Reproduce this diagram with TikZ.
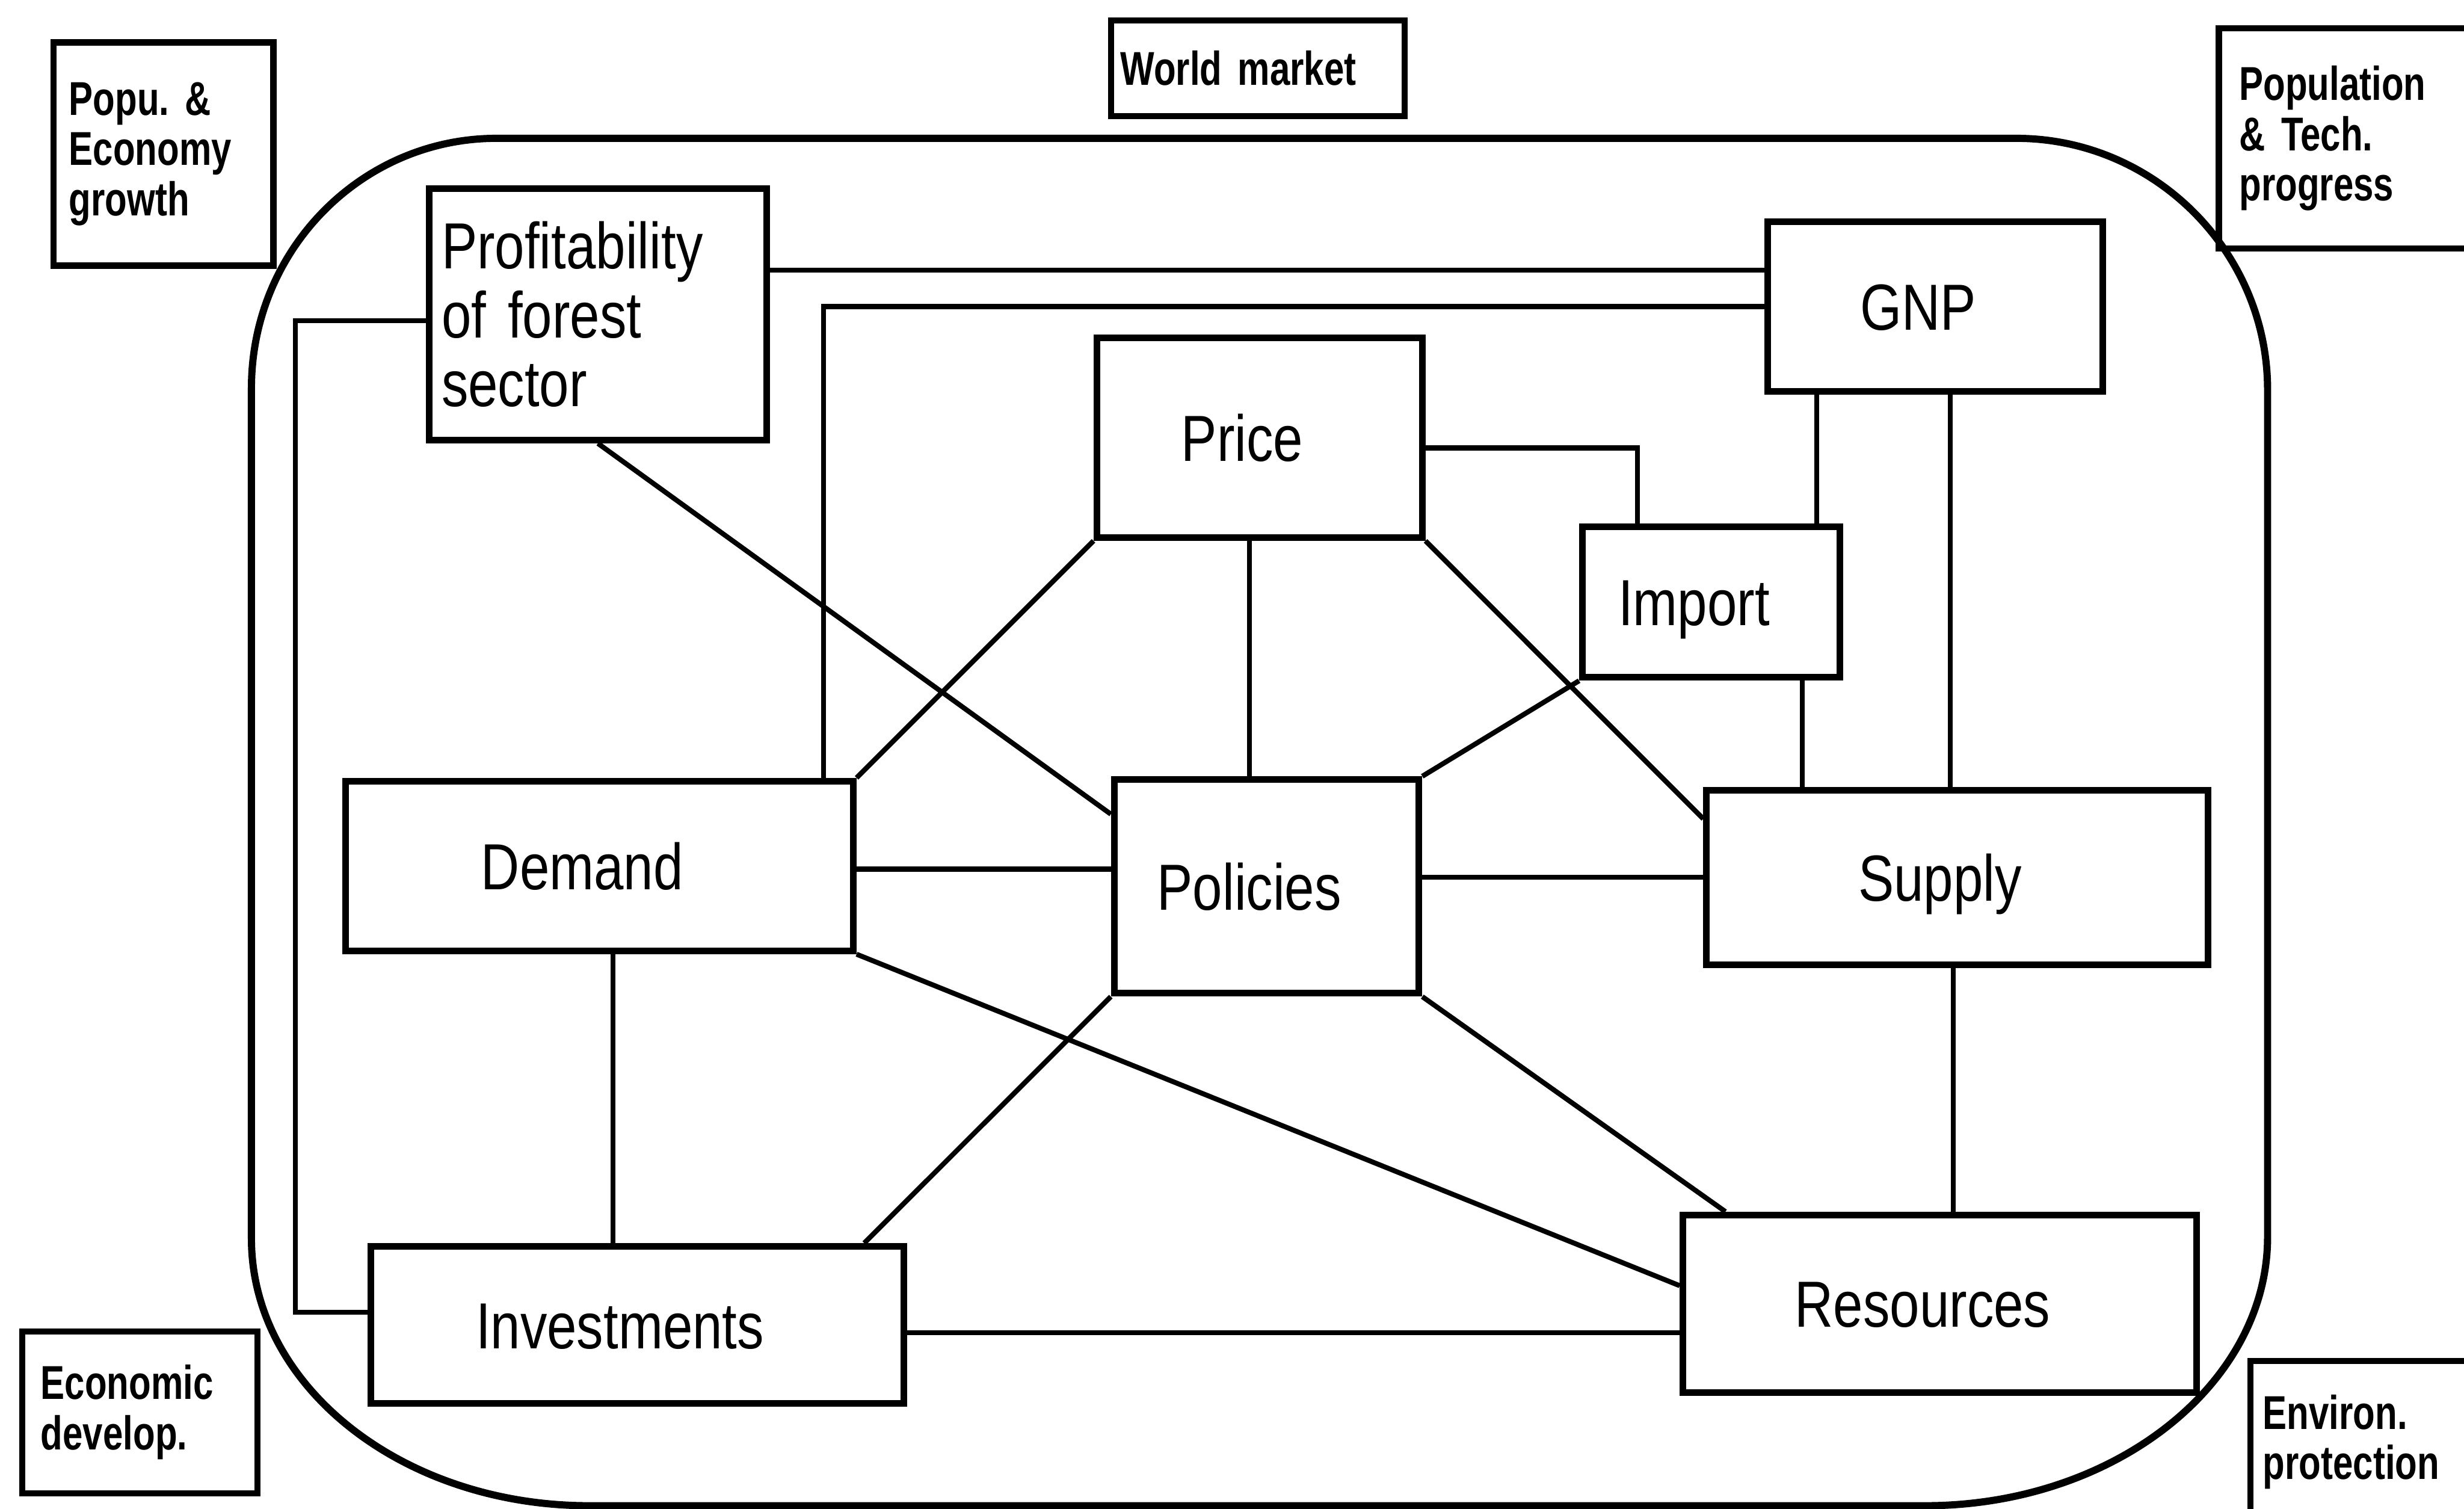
\documentclass[tikz,border=0pt]{standalone}
\usepackage{fontspec}
\setmainfont{Liberation Sans}[FakeStretch=0.82]
\newfontfamily\sidefam{Liberation Sans}[FakeStretch=0.76]
\frenchspacing
\newcommand{\boxfont}{\fontsize{11.8}{12.5}\selectfont}
\newcommand{\sidefont}{\sidefam\fontsize{8.6}{9.1}\selectfont\bfseries}
\tikzset{
  block/.style={draw, line width=1.2pt, inner sep=0pt, font=\boxfont},
  word/.style={block, text height=8.5pt, text depth=0pt,
    execute at end node={\hspace*{2.2mm}}},
  side/.style={draw, line width=1.1pt, align=left, font=\sidefont, inner ysep=0pt},
  link/.style={line width=0.9pt},
  frame/.style={line width=1.3pt}
}
\begin{document}
\begin{tikzpicture}[x=0.1mm, y=-0.1mm]
    \useasboundingbox (0,0) rectangle (1568,960);
    \clip (0,0) rectangle (1568,960);

    % Rounded frame around the forest sector model
    \draw[frame] (160,247) -- (160,788) .. controls (160,882) and (256,958) .. (375,958)
        -- (1225,958) .. controls (1345,958) and (1443,881) .. (1443,787)
        -- (1443,248) .. controls (1443,160) and (1371,88) .. (1283,88)
        -- (316,88) .. controls (230,88) and (160,159) .. (160,247) -- cycle;

    % Outside factors
    \node[side, text width=12mm, inner xsep=1mm, minimum height=14.2mm] (popu) at (104,98) {Popu. \&\\Economy\\growth};
    \node[side, text width=17.5mm, inner xsep=0.6mm, minimum height=6.1mm] (world) at (800.5,43.5) {World market};
    \node[side, text width=15.2mm, inner xsep=1.3mm, minimum height=14mm] (poptech) at (1501,88) {Population\\\& Tech.\\progress};
    \node[side, text width=12.6mm, inner xsep=1.2mm, minimum height=10.3mm] (econ) at (89,898.5) {Economic\\develop.};
    \node[side, text width=14.2mm, inner xsep=0.8mm, minimum height=10.3mm] (environ) at (1511,917.5) {Environ.\\protection};

    % Model blocks
    \node[block, text width=19.9mm, inner xsep=0.8mm, minimum height=16mm, align=left] (prof) at (380.5,200) {Profitability\\of forest\\sector};
    \node[word, minimum width=21.3mm, minimum height=10.8mm] (gnp) at (1231.5,195) {GNP};
    \node[word, minimum width=20.7mm, minimum height=12.7mm] (price) at (801.5,278.5) {Price};
    \node[word, minimum width=16.4mm, minimum height=9.6mm] (import) at (1089,383) {Import};
    \node[word, minimum width=32.3mm, minimum height=10.8mm] (demand) at (381.5,551) {Demand};
    \node[word, minimum width=19.4mm, minimum height=13.6mm] (policies) at (806,564) {Policies};
    \node[word, minimum width=31.9mm, minimum height=11.1mm] (supply) at (1245.5,558.5) {Supply};
    \node[word, minimum width=33.9mm, minimum height=10mm] (invest) at (405.5,843) {Investments};
    \node[word, minimum width=32.7mm, minimum height=11.3mm] (resources) at (1234.5,829.5) {Resources};

    % Links between the blocks
    \draw[link] (prof.east |- 0,172) -- (gnp.west |- 0,172);
    \draw[link] (demand.north -| 524,0) |- (gnp.west |- 0,195);
    \draw[link] (prof.west |- 0,204) -| (188,835) -- (invest.west |- 0,835);
    \draw[link] (prof.south) -- (policies.west |- 0,518);
    \draw[link] (price.east |- 0,285) -| (import.north -| 1042,0);
    \draw[link] (gnp.south -| 1156,0) -- (import.north -| 1156,0);
    \draw[link] (gnp.south -| 1241,0) -- (supply.north -| 1241,0);
    \draw[link] (import.south -| 1147,0) -- (supply.north -| 1147,0);
    \draw[link] (price.south west) -- (demand.north east);
    \draw[link] (price.south -| 795,0) -- (policies.north -| 795,0);
    \draw[link] (price.south east) -- (supply.west |- 0,521);
    \draw[link] (import.south west) -- (policies.north east);
    \draw[link] (demand.east |- 0,553) -- (policies.west |- 0,553);
    \draw[link] (policies.east |- 0,558) -- (supply.west |- 0,558);
    \draw[link] (demand.south -| 390,0) -- (invest.north -| 390,0);
    \draw[link] (demand.south east) -- (resources.west |- 0,818);
    \draw[link] (policies.south west) -- (invest.north -| 550,0);
    \draw[link] (policies.south east) -- (resources.north -| 1098,0);
    \draw[link] (supply.south -| 1243,0) -- (resources.north -| 1243,0);
    \draw[link] (invest.east |- 0,848) -- (resources.west |- 0,848);
\end{tikzpicture}
\end{document}
